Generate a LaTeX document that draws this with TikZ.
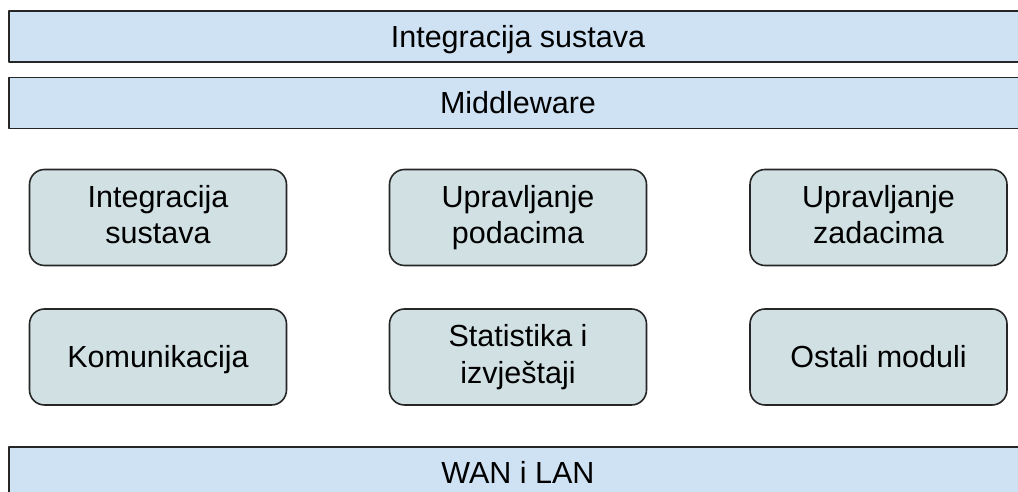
\documentclass[tikz,border=0pt]{standalone}
\usepackage{fontspec}
\setmainfont{Liberation Sans}
\definecolor{barblue}{HTML}{CFE2F3}
\definecolor{boxcyan}{HTML}{D0E0E3}
\begin{document}
\begin{tikzpicture}[x=1pt,y=1pt,line join=round,
	txt/.style={font=\fontsize{30.5}{36.5}\selectfont,execute at begin node={\rule{0pt}{27.6pt}},execute at end node={\rule[-6.5pt]{0pt}{6.5pt}}},
	bar/.style={txt,draw=black!85,line width=1.6pt,fill=barblue,minimum width=1018pt,minimum height=51pt,inner sep=0pt},
	modbox/.style={txt,draw=black!85,line width=1.6pt,fill=boxcyan,rounded corners=15pt,minimum width=257pt,minimum height=96pt,inner sep=0pt,align=center}]
		\useasboundingbox (0,0) rectangle (1018,492);
		\clip (0,0) rectangle (1018,492);
		\node[bar] (sustav) at (518,455.5) {Integracija sustava};
		\node[bar] (middleware) at (518,389) {Middleware};
		\node[modbox] (integracija) at (158,274.5) {Integracija\\sustava};
		\node[modbox] (podaci) at (518,274.5) {Upravljanje\\podacima};
		\node[modbox] (zadaci) at (878.5,274.5) {Upravljanje\\zadacima};
		\node[modbox] (komunikacija) at (158,135) {Komunikacija};
		\node[modbox] (statistika) at (518,135) {Statistika i\\izvještaji};
		\node[modbox] (ostali) at (878.5,135) {Ostali moduli};
		\node[bar] (mreza) at (518,19.5) {WAN i LAN};
	\end{tikzpicture}
\end{document}
